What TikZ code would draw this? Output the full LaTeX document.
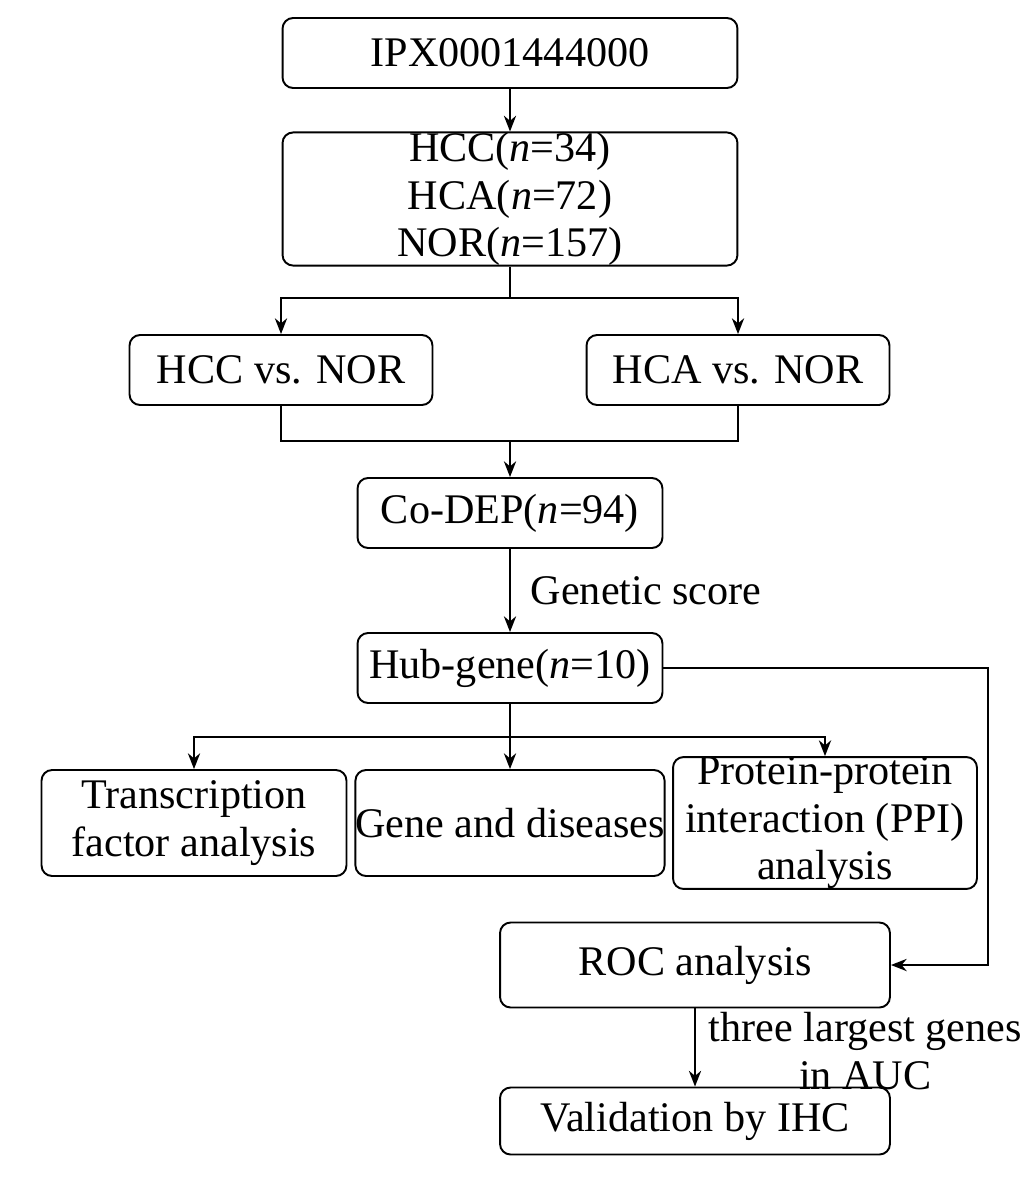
\documentclass[tikz,border=0pt]{standalone}
\usepackage{fontspec}
\setmainfont{Liberation Serif}
\usetikzlibrary{calc,arrows.meta}
\tikzset{
  box/.style={draw, rounded corners=6pt, line width=1.1pt, align=center,
    font=\fontsize{24}{27}\selectfont, inner sep=0pt},
  link/.style={line width=1pt},
  arr/.style={link, -{Stealth[length=9pt,width=7pt]}},
  note/.style={font=\fontsize{24}{27}\selectfont, align=center}
}
\begin{document}
\begin{tikzpicture}[x=0.02cm, y=-0.02cm]
  \useasboundingbox (0,0) rectangle (1032,1200);
  \node[box, minimum width=9.1cm, minimum height=1.4cm] (src) at (510,53) {IPX0001444000};
  \node[box, minimum width=9.1cm, minimum height=2.56cm] (grp) at (510,199)
      {HCC(\textit{n}=34)\\HCA(\textit{n}=72)\\NOR(\textit{n}=157)};
  \node[box, minimum width=6.06cm, minimum height=1.4cm] (hcc) at (281,370) {HCC vs. NOR};
  \node[box, minimum width=6.06cm, minimum height=1.4cm] (hca) at (738,370) {HCA vs. NOR};
  \node[box, minimum width=6.1cm, minimum height=1.4cm] (codep) at (510,513) {Co-DEP(\textit{n}=94)};
  \node[box, minimum width=6.1cm, minimum height=1.4cm] (hub) at (510,668) {Hub-gene(\textit{n}=10)};
  \node[box, minimum width=6.1cm, minimum height=2.12cm] (tf) at (194,823) {Transcription\\factor analysis};
  \node[box, minimum width=6.1cm, minimum height=2.12cm] (gd) at (510,823) {Gene and diseases};
  \node[box, minimum width=6.08cm, minimum height=2.12cm] (ppi) at (825,823)
      {Protein-protein\\interaction (PPI)\\analysis};
  \node[box, minimum width=7.8cm, minimum height=1.7cm] (roc) at (695,965) {ROC analysis};
  \node[box, minimum width=7.8cm, minimum height=1.34cm] (ihc) at (695,1121) {Validation by IHC};
  % connectors
  \draw[arr] (src) -- (grp);
  \draw[link] (grp.south) -- (510,298) coordinate (split);
  \draw[arr] (split) -| (hcc.north);
  \draw[arr] (split) -| (hca.north);
  \draw[link] (hcc.south) |- (510,441) coordinate (merge) -| (hca.south);
  \draw[arr] (merge) -- (codep);
  \draw[arr] (codep) -- node[note, right=8pt] {Genetic score} (hub);
  \draw[link] (hub.south) -- (510,737) coordinate (fan);
  \draw[arr] (fan) -| (tf.north);
  \draw[arr] (fan) -- (gd.north);
  \draw[arr] (fan) -| (ppi.north);
  \draw[arr] (hub.east) -| (988,965) -- (roc.east);
  \draw[arr] (roc) -- node[note, right=4pt, yshift=-2pt] {three largest genes\\in AUC} (ihc);
\end{tikzpicture}
\end{document}
